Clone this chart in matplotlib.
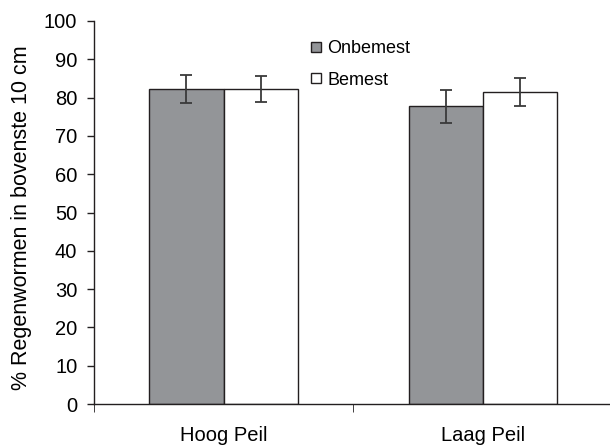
import matplotlib
matplotlib.use("Agg")
import matplotlib.pyplot as plt
import numpy as np
from matplotlib.lines import Line2D

plt.rcParams['font.family'] = ['Liberation Sans', 'DejaVu Sans']

categories = ["Hoog Peil", "Laag Peil"]
series_names = ["Onbemest", "Bemest"]
onbemest = [82.2, 77.7]
bemest = [82.3, 81.5]
onbemest_err = [3.6, 4.3]
bemest_err = [3.4, 3.7]
yticks = list(range(0, 101, 10))

fig = plt.figure(figsize=(6.10, 4.46), dpi=100)
ax = fig.add_axes([0.154, 0.094, 0.85, 0.859])

x = np.arange(len(categories))
w = 0.286
edge = "#231f20"
ekw = dict(ecolor="#3a3a3a", elinewidth=1.3, capsize=4, capthick=1.3)
ax.bar(x - w/2, onbemest, w, color="#939598", edgecolor=edge, linewidth=1.0,
       yerr=onbemest_err, error_kw=ekw, label=series_names[0], zorder=2)
ax.bar(x + w/2, bemest, w, color="white", edgecolor=edge, linewidth=1.0,
       yerr=bemest_err, error_kw=ekw, label=series_names[1], zorder=2)

ax.set_xlim(-0.5, 1.5)
ax.set_ylim(0, 100)
ax.set_yticks(yticks)
ax.set_yticklabels([str(t) for t in yticks], fontsize=14.5)
ax.set_xticks(x)
ax.set_xticklabels(categories, fontsize=14.5)
ax.tick_params(axis='x', length=0, pad=16)
ax.set_xticks([-0.5, 0.5, 1.5], minor=True)
ax.tick_params(axis='x', which='minor', length=6, direction='out', color=edge)
ax.tick_params(axis='y', length=5, direction='out', color=edge, width=1.0, pad=7)

for s in ['top', 'right']:
    ax.spines[s].set_visible(False)
for s in ['left', 'bottom']:
    ax.spines[s].set_color(edge)
    ax.spines[s].set_linewidth(1.0)

ax.set_ylabel("% Regenwormen in bovenste 10 cm", fontsize=15.5)
ax.yaxis.set_label_coords(-0.120, 0.486)

handles = [
    Line2D([], [], marker='s', linestyle='none', markersize=6.5, markerfacecolor="#939598", markeredgecolor=edge),
    Line2D([], [], marker='s', linestyle='none', markersize=6.5, markerfacecolor="white", markeredgecolor=edge),
]
fig.legend(handles, series_names, loc='upper left', bbox_to_anchor=(0.501, 0.918),
           bbox_transform=fig.transFigure, frameon=False, borderaxespad=0,
           fontsize=13, handlelength=0.8, handletextpad=0.2, labelspacing=0.8, borderpad=0.2)

fig.savefig("out.png", dpi=100)
